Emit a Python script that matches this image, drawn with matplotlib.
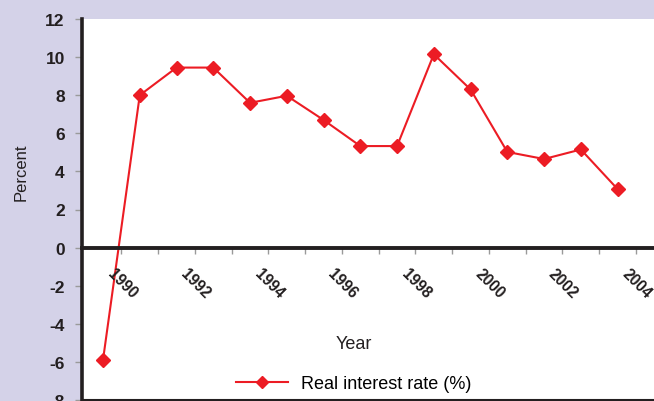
import matplotlib
matplotlib.use("Agg")
import matplotlib.pyplot as plt
import matplotlib.transforms as mtransforms

# Données du graphique
years = [1990, 1991, 1992, 1993, 1994, 1995, 1996, 1997,
         1998, 1999, 2000, 2001, 2002, 2003, 2004]
real_rate = [-5.9, 8.0, 9.45, 9.45, 7.6, 7.97, 6.7, 5.33,
             5.33, 10.15, 8.3, 5.02, 4.65, 5.15, 3.07]
label_years = [1990, 1992, 1994, 1996, 1998, 2000, 2002, 2004]
y_ticks = [-8, -6, -4, -2, 0, 2, 4, 6, 8, 10, 12]

red = '#ec1c24'
grey = '#9a9a9a'
dark = '#231f20'
bg = '#d4d2e8'
tick_font = ['Liberation Sans Narrow', 'Liberation Sans', 'DejaVu Sans']
text_font = ['Liberation Sans', 'DejaVu Sans']

fig = plt.figure(figsize=(6.54, 4.02), dpi=100, facecolor=bg)
ax = fig.add_axes([81.5 / 654, 1 / 402, 1 - 81.5 / 654, 381 / 402])
ax.set_facecolor('white')

ax.plot(years, real_rate, color=red, lw=1.5, marker='D', markersize=7.4,
        markerfacecolor=red, markeredgecolor=red, label='Real interest rate (%)')

ax.set_xlim(1989.415, 2004.99)
ax.set_ylim(-8, 12)

# Axes
for side in ['top', 'right']:
    ax.spines[side].set_visible(False)
ax.spines['left'].set_linewidth(2.6)
ax.spines['left'].set_color(dark)
ax.spines['bottom'].set_position(('data', 0))
ax.spines['bottom'].set_linewidth(2.8)
ax.spines['bottom'].set_color(dark)
ax.axhline(-8, color=dark, lw=1.5, clip_on=False)

ax.set_yticks(y_ticks)
ax.set_yticklabels([str(v) for v in y_ticks], fontsize=12.5,
                   fontweight='bold', family=tick_font, color=dark)
ax.tick_params(axis='y', direction='out', length=5, width=1, color=grey, pad=7)

# Graduations entre les catégories, étiquettes inclinées sous l'axe zéro
ax.set_xticks([y + 0.5 for y in years])
ax.set_xticklabels([])
ax.tick_params(axis='x', direction='out', length=4, width=1, color=grey)
offset = mtransforms.ScaledTranslation(12 / 100, -18 / 100, fig.dpi_scale_trans)
for yr in label_years:
    ax.text(yr, 0, str(yr), transform=ax.transData + offset, rotation=-45,
            rotation_mode='anchor', ha='left', va='top', fontsize=11.2,
            fontweight='bold', family=tick_font, color=dark)

ax.set_ylabel('Percent', fontsize=12, family=text_font, color=dark)
ax.yaxis.set_label_coords(-0.093, 0.601)
fig.text(354 / 654, (402 - 345) / 402, 'Year', ha='center', va='center',
         fontsize=13, family=text_font, color=dark)

ax.legend(loc='center left', bbox_to_anchor=(236 / 654, (402 - 385) / 402),
          bbox_transform=fig.transFigure, frameon=False, borderpad=0,
          borderaxespad=0, handlelength=2.9, handletextpad=0.7,
          prop={'family': text_font, 'size': 13}, markerscale=0.8)

fig.savefig('out.png', dpi=100, facecolor=bg)
